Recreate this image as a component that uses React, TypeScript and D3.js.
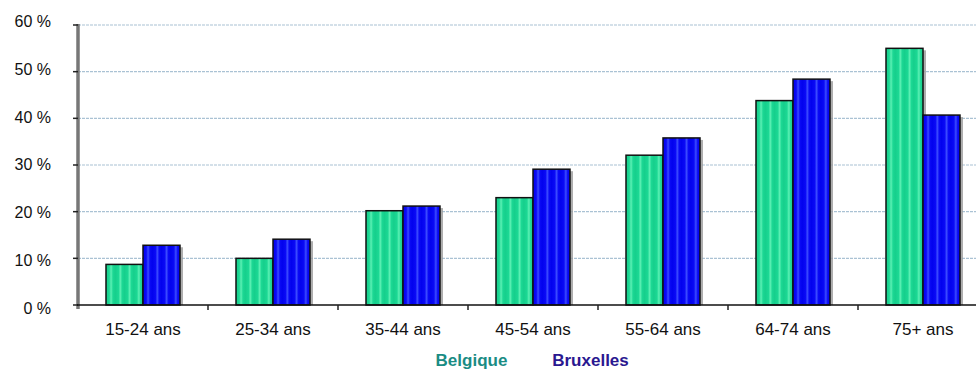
import React from "react";
import * as d3 from "d3";

const categories = ["15-24 ans", "25-34 ans", "35-44 ans", "45-54 ans", "55-64 ans", "64-74 ans", "75+ ans"];
const belgique = [8.7, 10.0, 20.2, 23.0, 32.1, 43.8, 55.0];
const bruxelles = [12.8, 14.1, 21.2, 29.1, 35.8, 48.4, 40.7];
const yTicks = [0, 10, 20, 30, 40, 50, 60];
const seriesNames = ["Belgique", "Bruxelles"];

const W = 976;
const H = 369;
const FONT = "Arial, 'Liberation Sans', sans-serif";

export default function App() {
  const x = d3
    .scaleBand<string>()
    .domain(categories)
    .range([78, 988])
    .paddingInner(0.4308)
    .paddingOuter(0.2154);
  const xSub = d3.scaleBand<string>().domain(seriesNames).range([0, x.bandwidth()]);
  const y = d3.scaleLinear().domain([0, 60]).range([305, 25]);
  // tick labels sit on a slightly wider spread than the gridlines
  const yLabel = d3.scaleLinear().domain([0, 60]).range([308, 21.5]);

  const series = [
    { name: "Belgique", values: belgique, fill: "url(#gGreen)" },
    { name: "Bruxelles", values: bruxelles, fill: "url(#gBlue)" },
  ];

  const step = x.step();
  const boundaries = categories.map((c) => (x(c) as number) - (step - x.bandwidth()) / 2 + step);

  return (
    <svg
      width={W}
      height={H}
      style={{ position: "absolute", left: 0, top: 0, background: "#fff" }}
      fontFamily={FONT}
    >
      <defs>
        <linearGradient id="gGreen" x1="0" x2="0.25" y1="0" y2="0" spreadMethod="repeat">
          <stop offset="0" stopColor="#16cf8c" />
          <stop offset="0.35" stopColor="#1cd894" />
          <stop offset="0.55" stopColor="#5cf0b4" />
          <stop offset="0.75" stopColor="#1cd894" />
          <stop offset="1" stopColor="#16cf8c" />
        </linearGradient>
        <linearGradient id="gBlue" x1="0" x2="0.25" y1="0" y2="0" spreadMethod="repeat">
          <stop offset="0" stopColor="#0202ee" />
          <stop offset="0.35" stopColor="#0a0af6" />
          <stop offset="0.55" stopColor="#3c4cff" />
          <stop offset="0.75" stopColor="#0a0af6" />
          <stop offset="1" stopColor="#0202ee" />
        </linearGradient>
      </defs>

      {/* gridlines */}
      {yTicks
        .filter((t) => t > 0)
        .map((t) => (
          <line
            key={"g" + t}
            x1={78}
            x2={W}
            y1={y(t)}
            y2={y(t)}
            stroke="#aac2d4"
            strokeWidth={1.2}
            strokeDasharray="3 1"
          />
        ))}

      {/* bars */}
      {series.map((s) =>
        categories.map((c, i) => {
          const bx = (x(c) as number) + (xSub(s.name) as number);
          const by = y(s.values[i]);
          const bw = xSub.bandwidth();
          const bh = y(0) - by;
          return (
            <g key={s.name + c}>
              <rect x={bx + 3} y={by + 2} width={bw} height={bh - 2} fill="#9a9a9a" opacity={0.8} />
              <rect x={bx} y={by} width={bw} height={bh} fill={s.fill} stroke="#111" strokeWidth={1.5} />
            </g>
          );
        })
      )}

      {/* y axis */}
      <line x1={78} x2={78} y1={y(60) - 1} y2={y(0) + 4} stroke="#777" strokeWidth={3.5} />
      {yTicks.map((t) => (
        <g key={"t" + t}>
          <line x1={73} x2={78} y1={y(t)} y2={y(t)} stroke="#222" strokeWidth={1.5} />
          <text
            x={51}
            y={yLabel(t)}
            textAnchor="end"
            dominantBaseline="central"
            fontSize={16}
            fill="#111"
          >
            {t} %
          </text>
        </g>
      ))}

      {/* x axis */}
      <line x1={77} x2={W} y1={y(0)} y2={y(0)} stroke="#111" strokeWidth={1.5} />
      {boundaries.map((b, i) => (
        <line key={"b" + i} x1={b} x2={b} y1={y(0)} y2={y(0) + 5} stroke="#222" strokeWidth={1.5} />
      ))}
      {categories.map((c) => (
        <text
          key={"c" + c}
          x={(x(c) as number) + x.bandwidth() / 2}
          y={335}
          textAnchor="middle"
          fontSize={17}
          fill="#111"
        >
          {c}
        </text>
      ))}

      {/* legend */}
      <text x={471.5} y={366} textAnchor="middle" fontSize={17} fontWeight="bold" fill="#1a8c84">
        Belgique
      </text>
      <text x={590.5} y={366} textAnchor="middle" fontSize={17} fontWeight="bold" fill="#2a1890">
        Bruxelles
      </text>
    </svg>
  );
}
